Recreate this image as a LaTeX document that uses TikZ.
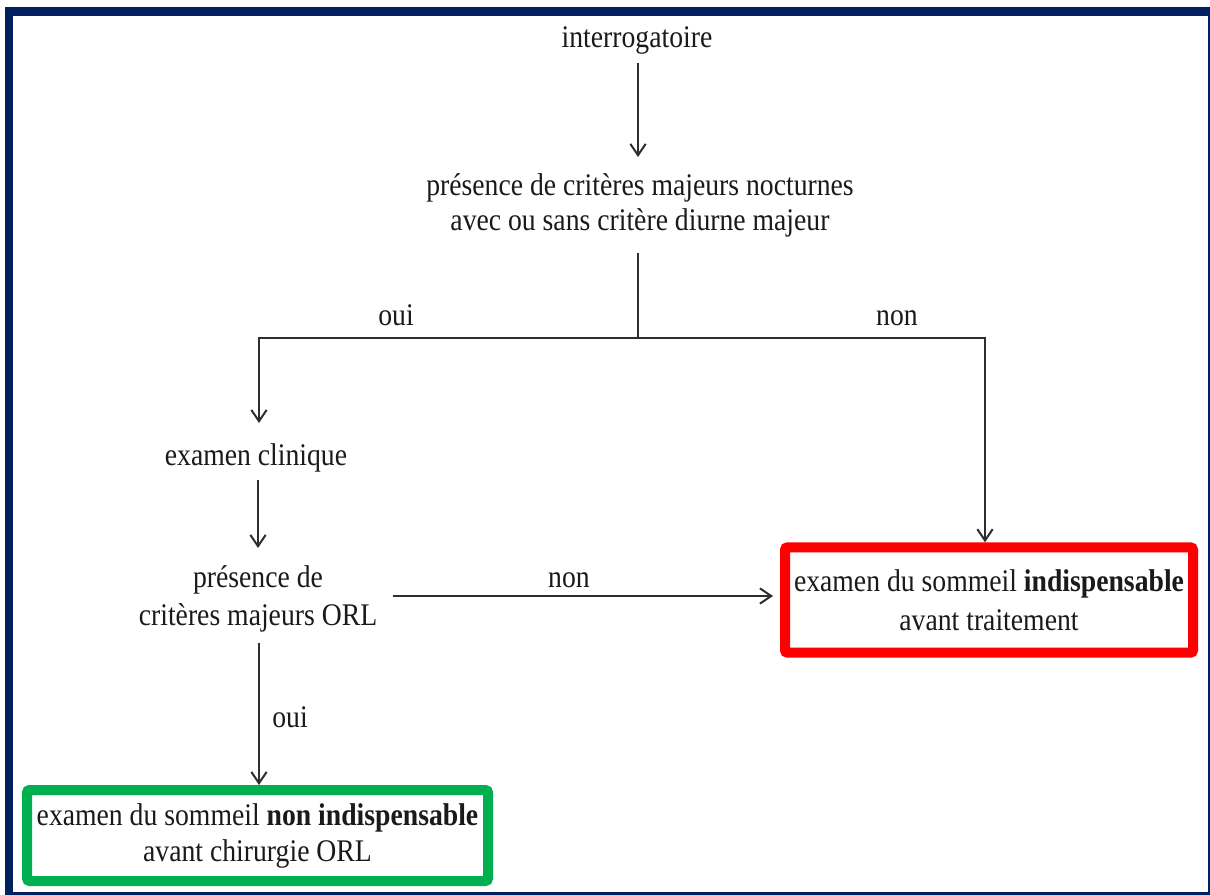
\documentclass[tikz,border=0pt]{standalone}
\usepackage{fontspec}
\setmainfont{Liberation Serif}[FakeStretch=0.88]
\usetikzlibrary{arrows.meta,calc}
\definecolor{frameblue}{HTML}{002060}
\definecolor{boxred}{HTML}{FF0000}
\definecolor{boxgreen}{HTML}{00B050}
\definecolor{ink}{HTML}{1A1A1A}
\definecolor{linegray}{HTML}{2E2E2E}
\tikzset{
  txt/.style={inner sep=0pt, outer sep=0pt, text=ink,
    font=\fontsize{23.6pt}{26.25pt}\selectfont},
  lbl/.style={txt, anchor=base},
  ln/.style={draw=linegray, line width=1.6pt},
  arr/.style={ln, -{Straight Barb[length=8.5pt,width=11.5pt,line width=1.5pt]}},
  redbox/.style={txt, align=center, draw=boxred, line width=7.5pt,
    rounded corners=2pt, outer sep=3.75pt,
    minimum width=306pt, minimum height=79.1pt,
    font=\fontsize{23.6pt}{29.5pt}\selectfont},
  greenbox/.style={txt, align=center, draw=boxgreen, line width=7.5pt,
    rounded corners=2pt, outer sep=3.75pt,
    minimum width=345.75pt, minimum height=68.25pt,
    font=\fontsize{23.6pt}{27pt}\selectfont},
}
\begin{document}
\begin{tikzpicture}[x=0.75pt,y=-0.75pt]
\useasboundingbox (0,0) rectangle (1210,895);
% frame
\fill[frameblue] (5,7) rectangle (1210,895);
\fill[white] (13,16) rectangle (1208,892);

% nodes
\node[lbl] (n1) at (637,48) {interrogatoire};
\node[txt, align=center] (n2) at (640,205)
  {présence de critères majeurs nocturnes\\avec ou sans critère diurne majeur};
\node[lbl] (n3) at (256,465) {examen clinique};
\node[txt, align=center, font=\fontsize{23.6pt}{28.5pt}\selectfont] (n4) at (258,599)
  {présence de\\critères majeurs ORL};
\node[redbox] (n5) at (989,600)
  {examen du sommeil \textbf{indispensable}\\avant traitement};
\node[greenbox] (n6) at (257.5,835.5)
  {examen du sommeil \textbf{non indispensable}\\avant chirurgie ORL};

% labels
\node[lbl] (l1) at (396,325) {oui};
\node[lbl] (l2) at (897,325) {non};
\node[lbl] (l3) at (569,587) {non};
\node[lbl] (l4) at (290,727) {oui};

% junction coordinates
\coordinate (j) at (638,338);
\coordinate (cl) at (259,338);
\coordinate (cr) at (985,338);

% connectors
\draw[arr] ($(n1.base)+(1,15)$) -- ($(n2.center)+(-2,-48)$);
\draw[ln] ($(n2.center)+(-2,48)$) -- (j);
\draw[arr] (j) -- (cl) -- ($(n3.base)+(3,-42)$);
\draw[arr] (j) -- (cr) -- (cr |- n5.north);
\draw[arr] ($(n3.base)+(2,15)$) -- ($(n4.center)+(0,-51)$);
\draw[arr] ($(n4.center)+(135,-3)$) -- ($(n5.west)+(-7,-4)$);
\draw[arr] ($(n4.center)+(1,44)$) -- ($(n4.center |- n6.north)+(1,0)$);
\end{tikzpicture}
\end{document}
